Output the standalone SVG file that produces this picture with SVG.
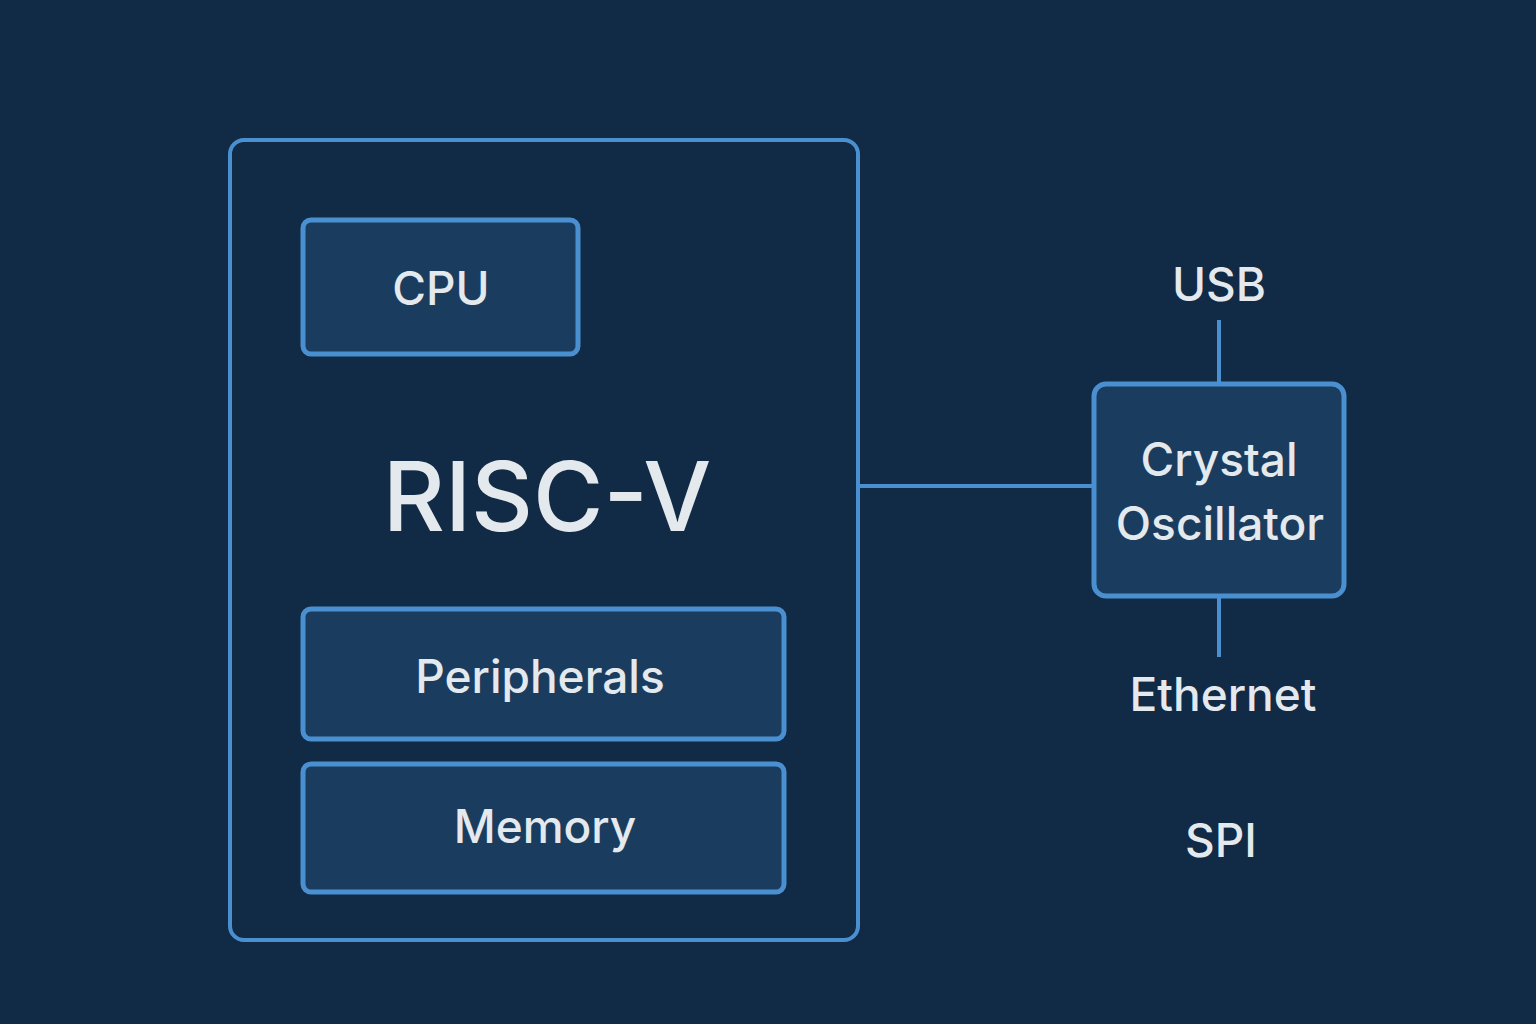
<svg xmlns="http://www.w3.org/2000/svg" width="1536" height="1024" viewBox="0 0 1536 1024">
<style>
.box{fill:#1a3d5f;stroke:#4a90d0;stroke-width:5}
.t{font-family:Inter,"Liberation Sans",sans-serif;fill:#e4e9ee;text-anchor:middle;font-weight:500}
.ln{stroke:#4a90d0;stroke-width:4;fill:none}
</style>
<rect width="1536" height="1024" fill="#112a45"/>
<g id="riscv"><rect x="230" y="140" width="628" height="800" rx="14" fill="none" stroke="#4a90d0" stroke-width="4"/>
<text class="t" x="547" y="531" font-size="96">RISC-V</text></g>
<g id="cpu"><rect class="box" x="303" y="220" width="275" height="134" rx="8"/><text class="t" x="441" y="305" font-size="46">CPU</text></g>
<g id="peripherals"><rect class="box" x="303" y="609" width="481" height="130" rx="8"/><text class="t" x="540" y="693" font-size="46">Peripherals</text></g>
<g id="memory"><rect class="box" x="303" y="764" width="481" height="128" rx="8"/><text class="t" x="545" y="843" font-size="46">Memory</text></g>
<g id="osc"><rect class="box" x="1094" y="384" width="250" height="212" rx="12"/><text class="t" x="1219" y="476" font-size="46">Crystal</text><text class="t" x="1220" y="540" font-size="46">Oscillator</text></g>
<g id="usb"><text class="t" x="1219" y="301" font-size="46">USB</text></g>
<g id="ethernet"><text class="t" x="1223" y="711" font-size="46">Ethernet</text></g>
<g id="spi"><text class="t" x="1221" y="857" font-size="46">SPI</text></g>
<g id="connectors">
<line class="ln" x1="860" y1="486" x2="1094" y2="486"/>
<line class="ln" x1="1219" y1="320" x2="1219" y2="384"/>
<line class="ln" x1="1219" y1="596" x2="1219" y2="657"/>
</g>
</svg>
